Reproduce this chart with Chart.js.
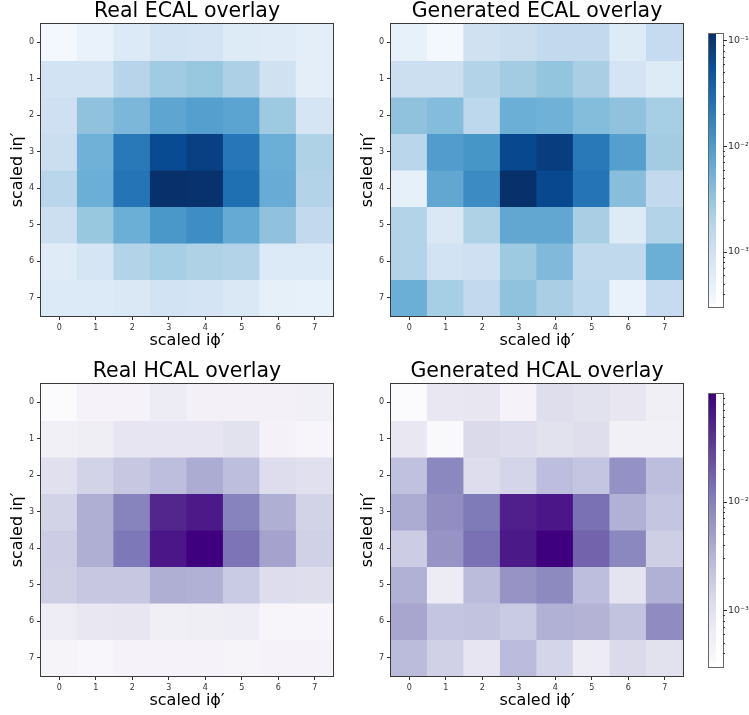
<!DOCTYPE html>
<html><head><meta charset="utf-8">
<script src="https://cdn.jsdelivr.net/npm/chart.js@4/dist/chart.umd.min.js"></script>
<style>
html,body{margin:0;padding:0;background:#fff;}
body{width:749px;height:715px;position:relative;overflow:hidden;}
canvas{position:absolute;}
</style></head><body>
<canvas id="c1" width="340" height="355" style="left:0;top:0"></canvas>
<canvas id="c2" width="340" height="355" style="left:350px;top:0"></canvas>
<canvas id="c3" width="340" height="355" style="left:0;top:360px"></canvas>
<canvas id="c4" width="340" height="355" style="left:350px;top:360px"></canvas>
<canvas id="cb1" width="49" height="300" style="left:700px;top:20px"></canvas>
<canvas id="cb2" width="49" height="300" style="left:700px;top:380px"></canvas>
<script>
// ---------------- data ----------------
const phiLabels = ['0','1','2','3','4','5','6','7'];
const etaLabels = [0,1,2,3,4,5,6,7];

const realEcal = [
  [3.6e-4,4.8e-4,7.2e-4,9.7e-4,9.1e-4,6.8e-4,6.4e-4,5.7e-4],
  [9.7e-4,9.7e-4,1.85e-3,2.8e-3,3.15e-3,2.21e-3,1.03e-3,5.7e-4],
  [1.09e-3,3.55e-3,4.76e-3,7.63e-3,9.1e-3,8.1e-3,2.97e-3,8.6e-4],
  [1.23e-3,5.68e-3,2.2e-2,6.37e-2,8.06e-2,2.34e-2,6.03e-3,2.08e-3],
  [1.75e-3,6.03e-3,2.48e-2,0.115,0.111,2.79e-2,6.4e-3,1.97e-3],
  [1.16e-3,3.15e-3,6.03e-3,1.09e-2,1.37e-2,6.78e-3,3.55e-3,1.47e-3],
  [6.4e-4,8.6e-4,1.97e-3,2.49e-3,2.08e-3,1.97e-3,7.2e-4,7.2e-4],
  [7.2e-4,7.2e-4,7.65e-4,9.7e-4,9.1e-4,7.65e-4,5.37e-4,5.07e-4]
];
const genEcal = [
  [5.07e-4,3.6e-4,1.03e-3,1.23e-3,1.47e-3,1.47e-3,6.8e-4,1.38e-3],
  [1.16e-3,1.16e-3,1.97e-3,2.64e-3,3.34e-3,2.34e-3,9.1e-4,6.8e-4],
  [3.55e-3,4.23e-3,1.65e-3,6.03e-3,5.68e-3,4.23e-3,3.55e-3,2.49e-3],
  [1.75e-3,9.66e-3,1.15e-2,6.76e-2,8.55e-2,2.2e-2,9.1e-3,2.64e-3],
  [5.37e-4,7.2e-3,1.46e-2,0.115,6.76e-2,2.48e-2,3.99e-3,1.47e-3],
  [1.97e-3,7.65e-4,2.08e-3,7.2e-3,7.2e-3,2.34e-3,6.8e-4,1.97e-3],
  [1.97e-3,9.7e-4,1.09e-3,2.97e-3,4.49e-3,1.55e-3,1.55e-3,6.03e-3],
  [6.03e-3,2.49e-3,1.47e-3,3.55e-3,2.34e-3,1.65e-3,4.78e-4,1.38e-3]
];
const realHcal = [
  [3.5e-4,4.9e-4,4.9e-4,7.3e-4,5.5e-4,5.5e-4,5.5e-4,5.8e-4],
  [5.8e-4,6.5e-4,9.2e-4,9.2e-4,9.2e-4,1.03e-3,5.2e-4,4.4e-4],
  [1.09e-3,1.63e-3,2.16e-3,2.71e-3,4.04e-3,2.71e-3,1.22e-3,1.09e-3],
  [1.63e-3,3.82e-3,1.0e-2,4.94e-2,6.21e-2,1.0e-2,3.82e-3,1.63e-3],
  [1.93e-3,3.82e-3,1.26e-2,6.58e-2,9.8e-2,1.34e-2,4.8e-3,1.72e-3],
  [1.82e-3,2.16e-3,2.16e-3,3.82e-3,3.61e-3,2.04e-3,1.22e-3,1.16e-3],
  [6.9e-4,8.2e-4,8.7e-4,6.2e-4,6.5e-4,6.9e-4,4.4e-4,4.4e-4],
  [4.65e-4,4.15e-4,4.9e-4,4.9e-4,4.9e-4,4.65e-4,4.9e-4,4.9e-4]
];
const genHcal = [
  [3.5e-4,8.2e-4,8.7e-4,4.9e-4,1.16e-3,1.03e-3,8.7e-4,6.2e-4],
  [8.2e-4,3.9e-4,1.37e-3,1.22e-3,1.03e-3,1.16e-3,5.8e-4,5.8e-4],
  [2.56e-3,8.97e-3,1.22e-3,1.54e-3,2.71e-3,2.29e-3,7.14e-3,2.71e-3],
  [4.04e-3,7.56e-3,1.19e-2,5.54e-2,6.58e-2,1.41e-2,3.61e-3,2.29e-3],
  [1.93e-3,6.75e-3,1.41e-2,6.21e-2,9.8e-2,1.77e-2,8.97e-3,1.82e-3],
  [3.61e-3,7.3e-4,2.87e-3,6.75e-3,8.47e-3,2.71e-3,9.7e-4,3.61e-3],
  [4.53e-3,2.29e-3,2.42e-3,2.04e-3,3.61e-3,3.41e-3,2.42e-3,8.0e-3],
  [2.87e-3,1.72e-3,9.2e-4,2.87e-3,1.54e-3,7.3e-4,1.37e-3,1.03e-3]
];
const ecalRange = [3.2e-4, 0.115];
const hcalRange = [3.3e-4, 0.098];

const BLUES = ['#f7fbff','#deebf7','#c6dbef','#9ecae1','#6baed6','#4292c6','#2171b5','#08519c','#08306b'];
const PURPLES = ['#fcfbfd','#efedf5','#dadaeb','#bcbddc','#9e9ac8','#807dba','#6a51a3','#54278f','#3f007d'];

// ---------------- helpers ----------------
const FONT = "'DejaVu Sans', 'Liberation Sans', sans-serif";
function hex2rgb(h){return [parseInt(h.slice(1,3),16),parseInt(h.slice(3,5),16),parseInt(h.slice(5,7),16)];}
function cmapColor(stops, v, range){
  const lo=Math.log10(range[0]), hi=Math.log10(range[1]);
  let t=(Math.log10(v)-lo)/(hi-lo); t=Math.max(0,Math.min(1,t));
  const n=stops.length-1, p=t*n, i=Math.min(n-1,Math.floor(p)), f=p-i;
  const a=hex2rgb(stops[i]), b=hex2rgb(stops[i+1]);
  const c=a.map((x,k)=>Math.round(x+(b[k]-x)*f));
  return 'rgb('+c.join(',')+')';
}
const SUP={'-':'⁻','0':'⁰','1':'¹','2':'²','3':'³','4':'⁴','5':'⁵','6':'⁶','7':'⁷','8':'⁸','9':'⁹'};
function sup(s){return String(s).split('').map(ch=>SUP[ch]||ch).join('');}

const framePlugin = {
  id:'frame',
  afterDatasetsDraw(chart, args, opts){
    const {ctx, chartArea:a} = chart;
    ctx.save();
    ctx.strokeStyle = opts.color || '#333';
    ctx.lineWidth = 1;
    ctx.strokeRect(Math.round(a.left)-0.5, Math.round(a.top)-0.5, Math.round(a.right-a.left)+1, Math.round(a.bottom-a.top)+1);
    ctx.restore();
  }
};

function makeHeatmap(id, title, matrix, stops, range){
  const datasets = etaLabels.map((eta, r) => ({
    label: 'row '+eta,
    data: phiLabels.map((_, c) => [eta-0.5, eta+0.5]),
    backgroundColor: matrix[r].map(v => cmapColor(stops, v, range)),
    borderWidth: 0,
    grouped: false,
    barPercentage: 1,
    categoryPercentage: 1,
    inflateAmount: 0.6
  }));
  new Chart(document.getElementById(id), {
    type: 'bar',
    data: { labels: phiLabels, datasets },
    plugins: [framePlugin],
    options: {
      responsive: false,
      animation: false,
      layout: { padding: { left: 0, right: 7, top: 0, bottom: 0 } },
      plugins: {
        legend: { display: false },
        tooltip: { enabled: false },
        frame: { color: '#3a3a3a' },
        title: { display: true, fullSize: false, text: title, color: '#000', padding: { top: 0, bottom: 0 },
                 font: { family: FONT, size: 20.5, weight: 'normal', lineHeight: 1.17 } }
      },
      scales: {
        x: {
          type: 'category', offset: true,
          grid: { display: true, offset: false, drawOnChartArea: false, drawTicks: true, tickLength: 4, tickColor: '#333' },
          border: { display: false },
          ticks: { color: '#333', font: { family: FONT, size: 8 }, padding: 3, autoSkip: false, maxRotation: 0 },
          title: { display: true, text: 'scaled iϕ′', color: '#000', padding: { top: 0, bottom: 5 },
                   font: { family: FONT, size: 16, lineHeight: 1.2 } },
          afterFit: s => { s.height = 39; }
        },
        y: {
          type: 'linear', min: -0.5, max: 7.5, reverse: true,
          grid: { display: true, drawOnChartArea: false, drawTicks: true, tickLength: 4, tickColor: '#333' },
          border: { display: false },
          afterBuildTicks: s => { s.ticks = etaLabels.map(v => ({ value: v })); },
          ticks: { color: '#333', font: { family: FONT, size: 8 }, padding: 3, autoSkip: false,
                   callback: v => String(v) },
          title: { display: true, text: 'scaled iη′', color: '#000', padding: { top: 8, bottom: 0 },
                   font: { family: FONT, size: 16, lineHeight: 1.2 } },
          afterFit: s => { s.width = 41; }
        }
      }
    }
  });
}

const cbTickPlugin = {
  id: 'cbticks',
  afterDraw(chart){
    const {ctx, chartArea:a} = chart;
    const s = chart.scales.y;
    ctx.save();
    ctx.strokeStyle = '#333'; ctx.lineWidth = 1;
    s.ticks.forEach(t => {
      const y = Math.round(s.getPixelForValue(t.value)) + 0.5;
      const e = Math.round(Math.log10(t.value));
      const major = Math.abs(t.value / Math.pow(10, e) - 1) < 1e-6;
      ctx.beginPath(); ctx.moveTo(a.right, y); ctx.lineTo(a.right + (major ? 4 : 2), y); ctx.stroke();
    });
    ctx.restore();
  }
};

function makeColorbar(id, stops, range){
  new Chart(document.getElementById(id), {
    type: 'bar',
    data: { labels: [''], datasets: [{
      data: [[range[0], range[1]]],
      borderWidth: 0, barPercentage: 1, categoryPercentage: 1, inflateAmount: 0,
      backgroundColor: ctx => {
        const ch = ctx.chart, a = ch.chartArea;
        if (!a) return stops[4];
        const g = ch.ctx.createLinearGradient(0, a.bottom, 0, a.top);
        stops.forEach((c, i) => g.addColorStop(i / (stops.length - 1), c));
        return g;
      }
    }]},
    plugins: [framePlugin, cbTickPlugin],
    options: {
      responsive: false, animation: false,
      layout: { padding: { left: 9, right: 0, top: 14, bottom: 13 } },
      plugins: { legend: { display: false }, tooltip: { enabled: false }, frame: { color: '#666' } },
      scales: {
        x: { display: false, offset: false },
        y: {
          type: 'logarithmic', position: 'right', min: range[0], max: range[1],
          grid: { display: true, drawOnChartArea: false, drawTicks: true, tickLength: 4, tickColor: 'rgba(0,0,0,0)' },
          border: { display: false },
          afterBuildTicks: s => {
            const out = [];
            for (let e = -5; e <= 0; e++) for (let m = 1; m <= 9; m++) {
              const v = m * Math.pow(10, e);
              if (v >= range[0] && v <= range[1]) out.push({ value: v });
            }
            s.ticks = out;
          },
          ticks: { color: '#333', font: { family: FONT, size: 9.5 }, padding: 1, autoSkip: false,
                   callback: v => {
                     const e = Math.round(Math.log10(v));
                     return Math.abs(v / Math.pow(10, e) - 1) < 1e-6 ? '10' + sup(e) : '';
                   } },
          afterFit: s => { s.width = 26; }
        }
      }
    }
  });
}

makeHeatmap('c1', 'Real ECAL overlay', realEcal, BLUES, ecalRange);
makeHeatmap('c2', 'Generated ECAL overlay', genEcal, BLUES, ecalRange);
makeHeatmap('c3', 'Real HCAL overlay', realHcal, PURPLES, hcalRange);
makeHeatmap('c4', 'Generated HCAL overlay', genHcal, PURPLES, hcalRange);
makeColorbar('cb1', BLUES, ecalRange);
makeColorbar('cb2', PURPLES, hcalRange);
</script>
</body></html>
